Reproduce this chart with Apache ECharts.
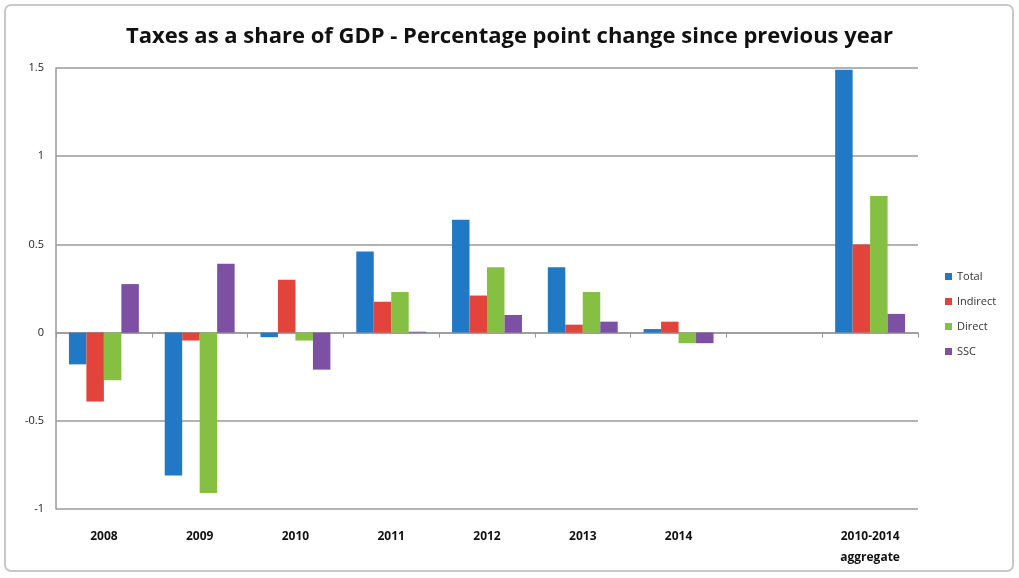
<!DOCTYPE html>
<html><head><meta charset="utf-8">
<script src="https://cdn.jsdelivr.net/npm/echarts@6/dist/echarts.min.js"></script>
<style>html,body{margin:0;padding:0;background:#fff}#c{width:1019px;height:578px}</style>
</head><body><div id="c"></div>
<script>
const categories = ['2008','2009','2010','2011','2012','2013','2014','','2010-2014\naggregate'];
const total    = [-0.18, -0.81, -0.026, 0.46, 0.64, 0.37, 0.02, null, 1.49];
const indirect = [-0.39, -0.045, 0.30, 0.175, 0.21, 0.045, 0.062, null, 0.50];
const direct   = [-0.27, -0.91, -0.045, 0.23, 0.37, 0.23, -0.06, null, 0.775];
const ssc      = [0.275, 0.39, -0.21, 0.005, 0.10, 0.062, -0.06, null, 0.106];
const yTicks = [-1, -0.5, 0, 0.5, 1, 1.5];

const chart = echarts.init(document.getElementById('c'), null, {renderer:'canvas'});
const mk = (name, data, color) => ({
  name, type:'bar', data, xAxisIndex:0, barGap:'0%', barCategoryGap:'27%',
  itemStyle:{color}, emphasis:{disabled:true}
});
chart.setOption({
  animation:false,
  backgroundColor:'#fff',
  graphic:[{type:'rect', shape:{x:5,y:5,width:1008,height:566,r:6}, style:{fill:'none', stroke:'#c8c8c8', lineWidth:2}, silent:true}],
  title:{text:'Taxes as a share of GDP - Percentage point change since previous year', left:'center', top:21,
    textStyle:{fontFamily:'Open Sans', fontWeight:'bold', fontSize:22, color:'#111'}},
  legend:{orient:'vertical', left:940, top:266, itemWidth:7, itemHeight:7, itemGap:14,
    icon:'rect', textStyle:{fontFamily:'Open Sans', fontSize:11, color:'#333'},
    data:['Total','Indirect','Direct','SSC']},
  grid:{left:56, right:101, top:68, bottom:69, containLabel:false},
  xAxis:[
    {type:'category', data:categories, position:'bottom',
      axisLine:{show:false, onZero:false}, axisTick:{show:false},
      axisLabel:{margin:17, fontFamily:'Open Sans', fontWeight:'bold', fontSize:12, color:'#111', lineHeight:21, interval:0}},
    {type:'category', data:categories, position:'bottom',
      axisLine:{show:true, onZero:true, lineStyle:{color:'#999', width:1.5}},
      axisTick:{show:true, length:5, lineStyle:{color:'#999'}}, axisLabel:{show:false}}
  ],
  yAxis:{type:'value', min:-1, max:1.5, interval:0.5,
    axisLine:{show:true, lineStyle:{color:'#999', width:1.5}},
    axisTick:{show:false},
    splitLine:{lineStyle:{color:'#9a9a9a', width:1.5}},
    axisLabel:{margin:12, fontFamily:'Open Sans', fontSize:11, color:'#222',
      formatter:v => String(yTicks.includes(v) ? v : v)}},
  series:[
    mk('Total', total, '#2179c5'),
    mk('Indirect', indirect, '#e2433b'),
    mk('Direct', direct, '#86c042'),
    mk('SSC', ssc, '#7d50a3')
  ]
});
</script></body></html>
